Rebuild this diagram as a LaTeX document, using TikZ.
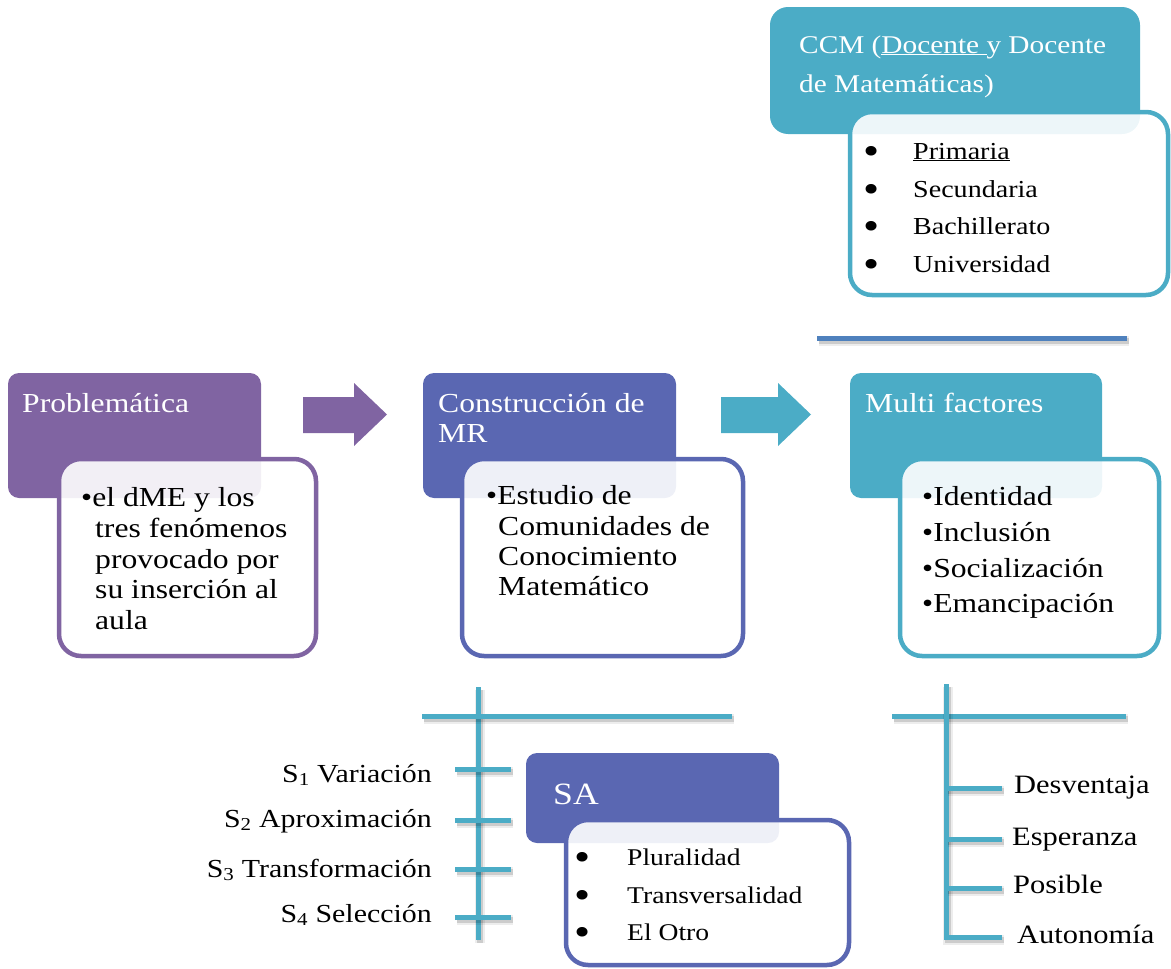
\documentclass[tikz,border=0pt]{standalone}
\usepackage{fontspec}
\setmainfont{Liberation Serif}[FakeStretch=1.15]
\definecolor{violeta}{HTML}{8064A2}
\definecolor{azul}{HTML}{5A67B2}
\definecolor{turquesa}{HTML}{4BACC6}
\definecolor{lineazul}{HTML}{4F81BD}
\newcommand{\fs}[2]{\fontsize{#1}{#2}\selectfont}
\tikzset{
  hdr/.style={rectangle, rounded corners=11pt, inner sep=0pt, draw=none},
  lst/.style={rectangle, rounded corners=22pt, inner sep=0pt, fill=white,
    fill opacity=0.9, draw opacity=1, line width=4.5pt},
  wtxt/.style={anchor=base west, inner sep=0pt, text=white},
  btxt/.style={anchor=base west, inner sep=0pt, text=black},
  rtxt/.style={anchor=base east, inner sep=0pt, text=black},
  dot/.style={anchor=base, inner sep=0pt, text=black, font=\fs{40}{40}},
  shadowed/.style={
    preaction={draw=black, draw opacity=0.07, line width=10pt,
      transform canvas={shift={(2pt,-3pt)}}},
    preaction={draw=black, draw opacity=0.14, line width=6pt,
      transform canvas={shift={(2pt,-3pt)}}}},
  branch/.style={shadowed, draw=turquesa, line width=5pt},
  topline/.style={shadowed, draw=lineazul, line width=5pt}
}
\begin{document}
\begin{tikzpicture}[x=1pt,y=-1pt]
\useasboundingbox (0,0) rectangle (1171,969);

% ---------- CCM ----------
\node[hdr, fill=turquesa, minimum width=370pt, minimum height=127pt,
  rounded corners=18pt] (ccm) at (955,70.5) {};
\node[lst, draw=turquesa, minimum width=318pt, minimum height=183pt] (ccmlist) at (1009,203.5) {};
\node[wtxt, font=\fs{25.5}{40}] (ccm1) at (799,53) {CCM (\underline{Docente\ }y Docente};
\node[wtxt, font=\fs{25.5}{40}] (ccm2) at (799,92) {de Matemáticas)};
\node[dot] (cb1) at (872,164) {•};
\node[dot] (cb2) at (872,202) {•};
\node[dot] (cb3) at (872,239) {•};
\node[dot] (cb4) at (872,277) {•};
\begin{scope}[every node/.append style={font=\fs{24.4}{37}}]
  \node[btxt] (c1) at (913,159) {\underline{Primaria}};
  \node[btxt] (c2) at (913,197) {Secundaria};
  \node[btxt] (c3) at (913,234) {Bachillerato};
  \node[btxt] (c4) at (913,272) {Universidad};
\end{scope}

% rule under the CCM block
\coordinate (tl1) at (817,338);
\coordinate (tl2) at (1127,338);
\draw[topline] (tl1) -- (tl2);

% ---------- Problemática ----------
\node[hdr, fill=violeta, minimum width=253pt, minimum height=125pt] (prob) at (134.5,435.5) {};
\node[lst, draw=violeta, minimum width=257pt, minimum height=197pt] (problist) at (187.5,557.5) {};
\begin{scope}[every node/.append style={font=\fs{27.5}{31}}]
  \node[wtxt] (probt) at (22,412) {Problemática};
  \node[btxt] (p1) at (81,506) {•el dME y los};
  \node[btxt] (p2) at (95,537) {tres fenómenos};
  \node[btxt] (p3) at (95,568) {provocado por};
  \node[btxt] (p4) at (95,598) {su inserción al};
  \node[btxt] (p5) at (95,629) {aula};
\end{scope}

% arrow between Problemática and Construcción
\coordinate (a1) at (303,415);
\fill[violeta] (a1) ++(0,-18) -- ++(51,0) -- ++(0,-14) -- ++(33,31.5)
  -- ++(-33,31.5) -- ++(0,-13) -- ++(-51,0) -- cycle;

% ---------- Construcción de MR ----------
\node[hdr, fill=azul, minimum width=253pt, minimum height=125pt] (mr) at (549.5,435.5) {};
\node[lst, draw=azul, minimum width=281pt, minimum height=197pt] (mrlist) at (602.5,557.5) {};
\begin{scope}[every node/.append style={font=\fs{27.5}{31}}]
  \node[wtxt] (mrt1) at (438,412) {Construcción de};
  \node[wtxt] (mrt2) at (438,442) {MR};
  \node[btxt] (m1) at (486,504) {•Estudio de};
  \node[btxt] (m2) at (498,535) {Comunidades de};
  \node[btxt] (m3) at (498,565) {Conocimiento};
  \node[btxt] (m4) at (498,595) {Matemático};
\end{scope}

% arrow between Construcción and Multi factores
\coordinate (a2) at (721,415);
\fill[turquesa] (a2) ++(0,-18) -- ++(57,0) -- ++(0,-14) -- ++(33,31.5)
  -- ++(-33,31.5) -- ++(0,-13) -- ++(-57,0) -- cycle;

% ---------- Multi factores ----------
\node[hdr, fill=turquesa, minimum width=252pt, minimum height=125pt] (mf) at (976,435.5) {};
\node[lst, draw=turquesa, minimum width=259pt, minimum height=197pt] (mflist) at (1029.5,557.5) {};
\begin{scope}[every node/.append style={font=\fs{27.5}{31}}]
  \node[wtxt] (mft) at (865,412) {Multi factores};
  \node[btxt] (f1) at (922,505) {•Identidad};
  \node[btxt] (f2) at (922,541) {•Inclusión};
  \node[btxt] (f3) at (922,577) {•Socialización};
  \node[btxt] (f4) at (922,612) {•Emancipación};
\end{scope}

% ---------- S1..S4 tree ----------
\coordinate (lvt) at (478,687);
\coordinate (lvb) at (478,940);
\coordinate (lhl) at (422,716);
\coordinate (lhr) at (732,716);
\draw[branch] (lvt) -- (lvb);
\draw[branch] (lhl) -- (lhr);
\foreach \yy [count=\i] in {769,820,869,917} {
  \coordinate (tk\i a) at (455,\yy);
  \coordinate (tk\i b) at (511,\yy);
  \draw[branch] (tk\i a) -- (tk\i b);
}
\begin{scope}[every node/.append style={font=\fs{26}{30}}]
  \node[rtxt] (s1) at (432,782) {S\textsubscript{1} Variación};
  \node[rtxt] (s2) at (432,827) {S\textsubscript{2} Aproximación};
  \node[rtxt] (s3) at (432,877) {S\textsubscript{3} Transformación};
  \node[rtxt] (s4) at (432,922) {S\textsubscript{4} Selección};
\end{scope}

% ---------- SA ----------
\node[hdr, fill=azul, minimum width=253pt, minimum height=90pt] (sa) at (652.5,798) {};
\node[lst, draw=azul, minimum width=283pt, minimum height=145pt] (salist) at (707.5,892.5) {};
\node[wtxt, font=\fs{31}{36}] (sat) at (553,804) {SA};
\node[dot] (sb1) at (583,870) {•};
\node[dot] (sb2) at (583,908) {•};
\node[dot] (sb3) at (583,945) {•};
\begin{scope}[every node/.append style={font=\fs{24}{37}}]
  \node[btxt] (sa1) at (627,865) {Pluralidad};
  \node[btxt] (sa2) at (627,903) {Transversalidad};
  \node[btxt] (sa3) at (627,940) {El Otro};
\end{scope}

% ---------- right tree ----------
\coordinate (rvt) at (946,684);
\coordinate (rhl) at (892,716);
\coordinate (rhr) at (1126,716);
\coordinate (rb4) at (1002,937);
\draw[branch] (rhl) -- (rhr);
\draw[branch] (rvt) -- (946,937) -- (rb4);
\foreach \yy [count=\i] in {788,839,888} {
  \coordinate (rb\i a) at (946,\yy);
  \coordinate (rb\i) at (1002,\yy);
  \draw[branch] (rb\i a) -- (rb\i);
}
\begin{scope}[every node/.append style={font=\fs{26.5}{30}}]
  \node[btxt] (r1) at (1014,793) {Desventaja};
  \node[btxt] (r2) at (1012,845) {Esperanza};
  \node[btxt] (r3) at (1013,893) {Posible};
  \node[btxt] (r4) at (1017,943) {Autonomía};
\end{scope}
\end{tikzpicture}
\end{document}
